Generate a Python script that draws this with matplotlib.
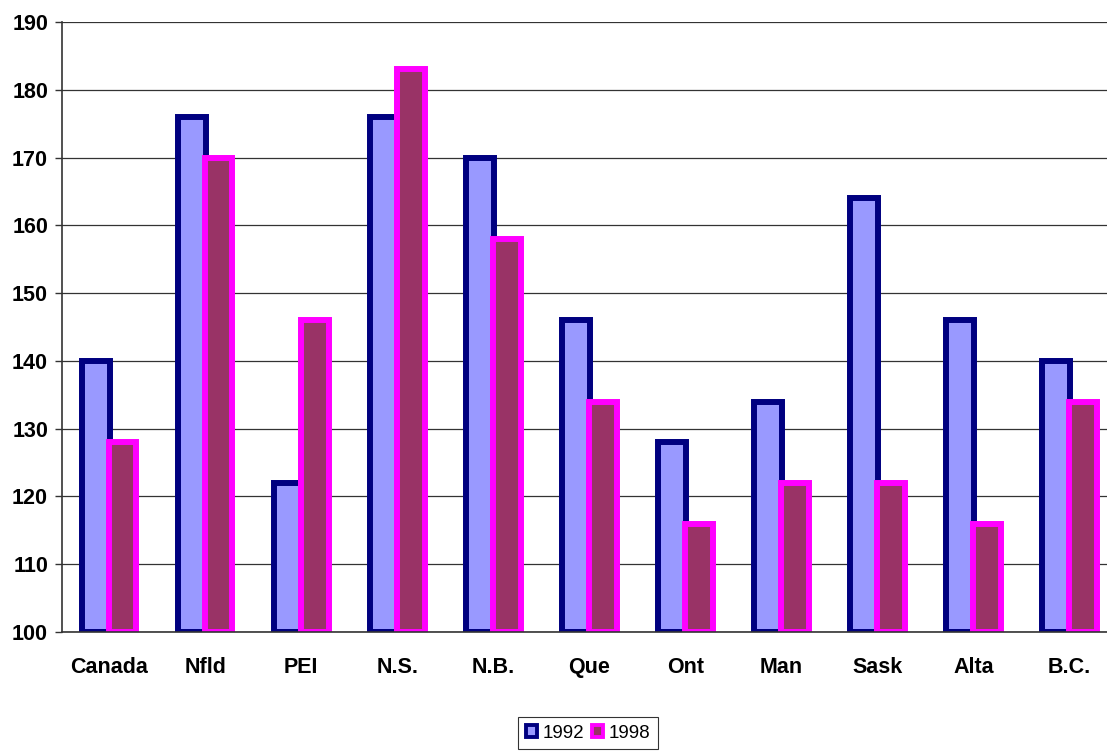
import matplotlib
matplotlib.use("Agg")
import matplotlib.pyplot as plt
from matplotlib.patches import Patch
import numpy as np

plt.rcParams['font.family'] = ['Liberation Sans', 'DejaVu Sans']

provinces = ["Canada", "Nfld", "PEI", "N.S.", "N.B.", "Que", "Ont", "Man", "Sask", "Alta", "B.C."]
values_1992 = [140, 176, 122, 176, 170, 146, 128, 134, 164, 146, 140]
values_1998 = [128, 170, 146, 183, 158, 134, 116, 122, 122, 116, 134]
series_labels = ["1992", "1998"]
y_ticks = [100, 110, 120, 130, 140, 150, 160, 170, 180, 190]

base = 100
fig = plt.figure(figsize=(11.07, 7.52), dpi=100)
ax = fig.add_axes([0.056, 0.1596, 0.944, 0.8111])

x = np.arange(len(provinces))
width = 0.29
offset = 0.14

ax.bar(x - offset, np.array(values_1992) - base, width, bottom=base,
       color="#9999FF", edgecolor="#000080", linewidth=4.3, zorder=3)
ax.bar(x + offset, np.array(values_1998) - base, width, bottom=base,
       color="#993366", edgecolor="#FF00FF", linewidth=4.3, zorder=4)

ax.set_xlim(-0.49, 10.39)
ax.set_ylim(100, 190)
ax.set_yticks(y_ticks)
ax.set_yticklabels([str(v) for v in y_ticks], fontsize=15.5, fontweight="bold")
ax.set_xticks(x)
ax.set_xticklabels(provinces, fontsize=15.5, fontweight="bold")
ax.tick_params(axis="x", length=0, pad=18)
ax.tick_params(axis="y", length=5, width=1, pad=5, color="#333333")

ax.grid(axis="y", color="#333333", linewidth=0.9, zorder=1)
ax.set_axisbelow(True)
for s in ["top", "right"]:
    ax.spines[s].set_visible(False)
ax.spines["left"].set_color("#333333")
ax.spines["left"].set_linewidth(1.2)
ax.spines["bottom"].set_color("#333333")
ax.spines["bottom"].set_linewidth(1.2)
ax.spines["bottom"].set_zorder(5)

handles = [
    Patch(facecolor="#9999FF", edgecolor="#000080", linewidth=2.8),
    Patch(facecolor="#993366", edgecolor="#FF00FF", linewidth=2.8),
]
leg = fig.legend(handles, series_labels, loc="center", bbox_to_anchor=(588 / 1107, 1 - 733 / 752),
                 ncol=2, fontsize=13.5, frameon=True, fancybox=False, edgecolor="black",
                 handlelength=0.6, handleheight=0.6, handletextpad=0.3, columnspacing=0.4,
                 borderpad=0.4, borderaxespad=0)
leg.get_frame().set_linewidth(0.8)

fig.savefig("out.png", dpi=100)
